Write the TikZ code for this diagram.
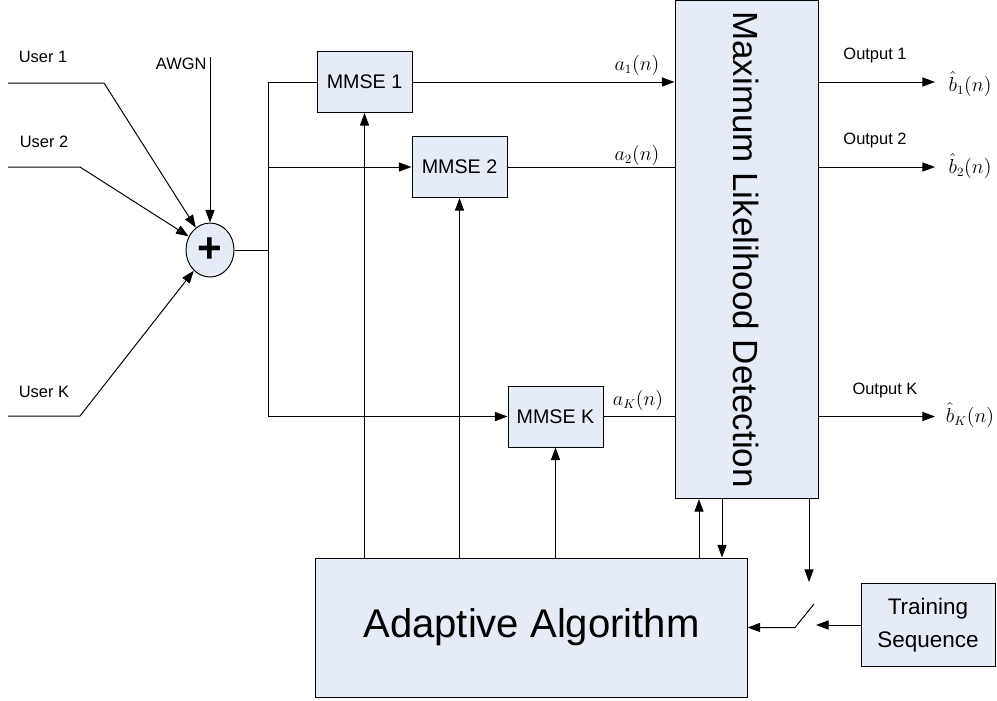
\documentclass[tikz,border=0pt]{standalone}
\usepackage{fontspec}
\setmainfont{Liberation Sans}
\usetikzlibrary{arrows.meta, positioning, shapes.geometric}

\definecolor{blockfill}{RGB}{230,236,247}
\tikzset{
	block/.style={draw, fill=blockfill, inner sep=0pt},
	mmse/.style={block, minimum width=2.375cm, minimum height=1.525cm, font=\fontsize{14}{16}\selectfont},
	lbl/.style={inner sep=0pt, font=\fontsize{11.7}{14}\selectfont},
	sig/.style={inner sep=0pt, font=\fontsize{13.5}{16}\selectfont}
}

\begin{document}
\begin{tikzpicture}[x=0.025cm, y=-0.025cm, line width=0.7pt, >={Triangle[length=9pt,width=6.5pt]}]
	\useasboundingbox (0,0) rectangle (997,700);

	% blocks
	\node[block, ellipse, minimum width=1.2cm, minimum height=1.35cm, font=\fontsize{30}{30}\bfseries\selectfont] (sum) at (210,250) {+};
	\node[mmse] (mmse1) at (364.5,82) {MMSE 1};
	\node[mmse] (mmse2) at (459.5,167) {MMSE 2};
	\node[mmse] (mmseK) at (555.5,416.5) {MMSE K};
	\node[block, minimum width=3.575cm, minimum height=12.45cm] (ml) at (746.5,249.5) {};
	\node[rotate=-90, font=\fontsize{24.9}{28}\selectfont] (mltext) at (ml) {Maximum Likelihood Detection};
	\node[block, minimum width=10.775cm, minimum height=3.475cm, font=\fontsize{28.5}{32}\selectfont] (adapt) at (531.5,627.5) {Adaptive Algorithm};
	\node[block, minimum width=3.35cm, minimum height=2.075cm, align=center, font=\fontsize{16}{23.5}\selectfont] (train) at (928,625) {Training\\Sequence};

	% inputs
	\node[lbl] (user1) at (43,57) {User 1};
	\node[lbl] (user2) at (44,142) {User 2};
	\node[lbl] (userK) at (44,392) {User K};
	\node[lbl, anchor=east] (awgn) at (207,64) {AWGN};
	\coordinate (in1) at (8,83);
	\coordinate (in2) at (8,167);
	\coordinate (inK) at (8,416);
	\coordinate (awgnin) at (210,57);
	\draw[->] (in1) -- (104,83) -- (sum);
	\draw[->] (in2) -- (80,167) -- (sum);
	\draw[->] (inK) -- (80,416) -- (sum);
	\draw[->] (awgnin) -- (sum.north);

	% bus to the MMSE filters
	\coordinate (bus) at (268,250);
	\draw (sum.east) -- (bus);
	\draw (mmse1.west) -| (bus);
	\draw[->] (bus) |- (mmseK.west);
	\draw[->] (bus |- mmse2.west) -- (mmse2.west);

	% filter outputs
	\draw[->] (mmse1.east) -- (mmse1.east -| ml.west);
	\draw (mmse2.east) -- (mmse2.east -| ml.west);
	\draw (mmseK.east) -- (mmseK.east -| ml.west);
	\node[sig] (a1) at (637,65) {$a_1(n)$};
	\node[sig] (a2) at (637,155) {$a_2(n)$};
	\node[sig] (aK) at (638,400) {$a_K(n)$};

	% detector outputs
	\coordinate (out1) at (935,82);
	\coordinate (out2) at (935,167);
	\coordinate (outK) at (935,416.5);
	\draw[->] (ml.east |- out1) -- (out1);
	\draw[->] (ml.east |- out2) -- (out2);
	\draw[->] (ml.east |- outK) -- (outK);
	\node[lbl] (o1) at (875,55) {Output 1};
	\node[lbl] (o2) at (875,140) {Output 2};
	\node[lbl] (oK) at (885,390) {Output K};
	\node[sig] (b1) at (970,84) {$\hat{b}_1(n)$};
	\node[sig] (b2) at (970,166) {$\hat{b}_2(n)$};
	\node[sig] (bK) at (970,415) {$\hat{b}_K(n)$};

	% adaptation
	\draw[->] (adapt.north -| mmse1) -- (mmse1.south);
	\draw[->] (adapt.north -| mmse2) -- (mmse2.south);
	\draw[->] (adapt.north -| mmseK) -- (mmseK.south);
	\coordinate (mlup) at (699,0);
	\coordinate (mldown) at (722,0);
	\draw[->] (adapt.north -| mlup) -- (ml.south -| mlup);
	\draw[->] (ml.south -| mldown) -- (adapt.north -| mldown);

	% switch
	\coordinate (swin) at (809,582);
	\coordinate (swa) at (795,627.5);
	\coordinate (swb) at (814,604);
	\coordinate (swc) at (816,625);
	\draw[->] (ml.south -| swin) -- (swin);
	\draw[->] (swb) -- (swa) -- (adapt.east |- swa);
	\draw[->] (train.west) -- (swc);
\end{tikzpicture}
\end{document}
